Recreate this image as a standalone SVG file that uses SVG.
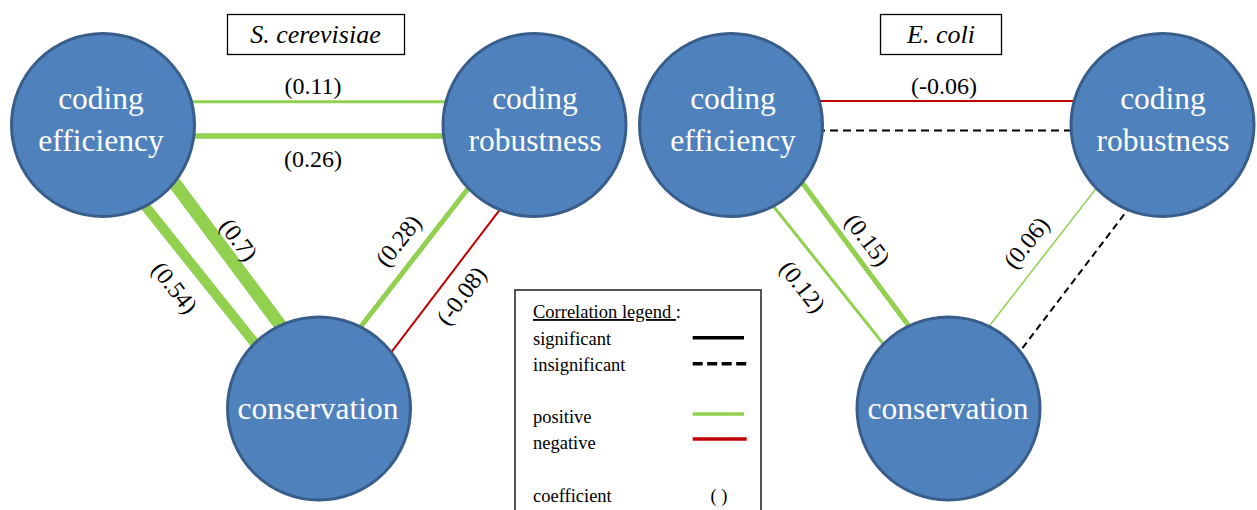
<svg xmlns="http://www.w3.org/2000/svg" width="1257" height="510" viewBox="0 0 1257 510">
<style>
.node circle{fill:#4f81bd;stroke:#385d8a;stroke-width:3}
.node text{fill:#fff;font-size:31.5px;text-anchor:middle}
.pos{stroke:#92d050;fill:none}
.neg{stroke:#c00000;fill:none}
.ins{stroke:#000;fill:none}
.lbl{font-size:24px;text-anchor:middle;fill:#000}
.title rect{fill:#fff;stroke:#000;stroke-width:1.3}
.title text{font-size:26px;font-style:italic;text-anchor:middle;fill:#000}
.leg text{font-size:18.5px;fill:#000}
text{font-family:'Liberation Serif','DejaVu Serif','Noto Serif',Times,serif}
</style>
<rect width="1257" height="510" fill="#fff"/>
<g id="connectors">
  <line class="pos" x1="150" y1="101.7" x2="490" y2="101.7" stroke-width="3"/>
  <line class="pos" x1="150" y1="136" x2="490" y2="136" stroke-width="5.5"/>
  <line class="pos" x1="127.3" y1="183.6" x2="271.7" y2="364.4" stroke-width="10"/>
  <line class="pos" x1="158" y1="161" x2="295" y2="345" stroke-width="13"/>
  <line class="pos" x1="485.4" y1="166.3" x2="343.6" y2="348.7" stroke-width="5"/>
  <line class="neg" x1="510.1" y1="196.1" x2="380.9" y2="365.9" stroke-width="2"/>
  <line class="neg" x1="778" y1="101" x2="1118" y2="101" stroke-width="2"/>
  <line class="ins" x1="778" y1="130.5" x2="1118" y2="130.5" stroke-width="2" stroke-dasharray="8 5"/>
  <line class="pos" x1="755.3" y1="183.6" x2="899.7" y2="364.4" stroke-width="3"/>
  <line class="pos" x1="786" y1="161" x2="923" y2="345" stroke-width="5"/>
  <line class="pos" x1="1113.4" y1="166.3" x2="971.6" y2="348.7" stroke-width="1.5"/>
  <line class="ins" x1="1138.1" y1="196.1" x2="1008.9" y2="365.9" stroke-width="2" stroke-dasharray="7 4.5"/>
  <text class="lbl" x="313" y="94">(0.11)</text>
  <text class="lbl" x="313" y="167">(0.26)</text>
  <text class="lbl" transform="translate(237,241) rotate(53)" y="6">(0.7)</text>
  <text class="lbl" transform="translate(173,289) rotate(52)" y="6">(0.54)</text>
  <text class="lbl" transform="translate(400,242) rotate(-52)" y="6">(0.28)</text>
  <text class="lbl" transform="translate(463,297) rotate(-53)" y="6">(-0.08)</text>
  <text class="lbl" x="944" y="94">(-0.06)</text>
  <text class="lbl" transform="translate(866,241) rotate(53)" y="6">(0.15)</text>
  <text class="lbl" transform="translate(801,288) rotate(52)" y="6">(0.12)</text>
  <text class="lbl" transform="translate(1028,244) rotate(-52)" y="6">(0.06)</text>
</g>
<g id="title-s" class="title">
  <rect x="227.5" y="14.5" width="177" height="40"/>
  <text x="315.5" y="43">S. cerevisiae</text>
</g>
<g id="title-e" class="title">
  <rect x="880.5" y="14.5" width="121" height="40"/>
  <text x="941" y="43">E. coli</text>
</g>
<g id="s-coding-efficiency" class="node">
  <circle cx="103" cy="125" r="91.5"/>
  <text x="101" y="109">coding</text>
  <text x="101" y="151">efficiency</text>
</g>
<g id="s-coding-robustness" class="node">
  <circle cx="534.5" cy="125" r="91.5"/>
  <text x="535" y="109">coding</text>
  <text x="535" y="151">robustness</text>
</g>
<g id="s-conservation" class="node">
  <circle cx="319" cy="408.5" r="91.5"/>
  <text x="318" y="419">conservation</text>
</g>
<g id="e-coding-efficiency" class="node">
  <circle cx="731" cy="125" r="91.5"/>
  <text x="733" y="109">coding</text>
  <text x="733" y="151">efficiency</text>
</g>
<g id="e-coding-robustness" class="node">
  <circle cx="1162.5" cy="125" r="91.5"/>
  <text x="1163" y="109">coding</text>
  <text x="1163" y="151">robustness</text>
</g>
<g id="e-conservation" class="node">
  <circle cx="948.5" cy="408.5" r="91.5"/>
  <text x="948" y="419">conservation</text>
</g>
<g id="legend" class="leg">
  <rect x="515" y="290" width="246" height="240" fill="#fff" stroke="#555" stroke-width="2"/>
  <text x="533" y="318"><tspan text-decoration="underline">Correlation legend&#160;</tspan>:</text>
  <text x="533" y="345">significant</text>
  <text x="533" y="371">insignificant</text>
  <text x="533" y="423">positive</text>
  <text x="533" y="449">negative</text>
  <text x="533" y="502">coefficient</text>
  <text x="719" y="502" text-anchor="middle">( )</text>
  <line x1="692.7" y1="337.7" x2="744" y2="337.7" stroke="#000" stroke-width="3.5"/>
  <line x1="692.7" y1="363.7" x2="746.7" y2="363.7" stroke="#000" stroke-width="3.5" stroke-dasharray="10 4.5"/>
  <line x1="692.7" y1="414" x2="744" y2="414" stroke="#92d050" stroke-width="3.5"/>
  <line x1="692.7" y1="439" x2="746.7" y2="439" stroke="#c00000" stroke-width="3.5"/>
</g>
</svg>
